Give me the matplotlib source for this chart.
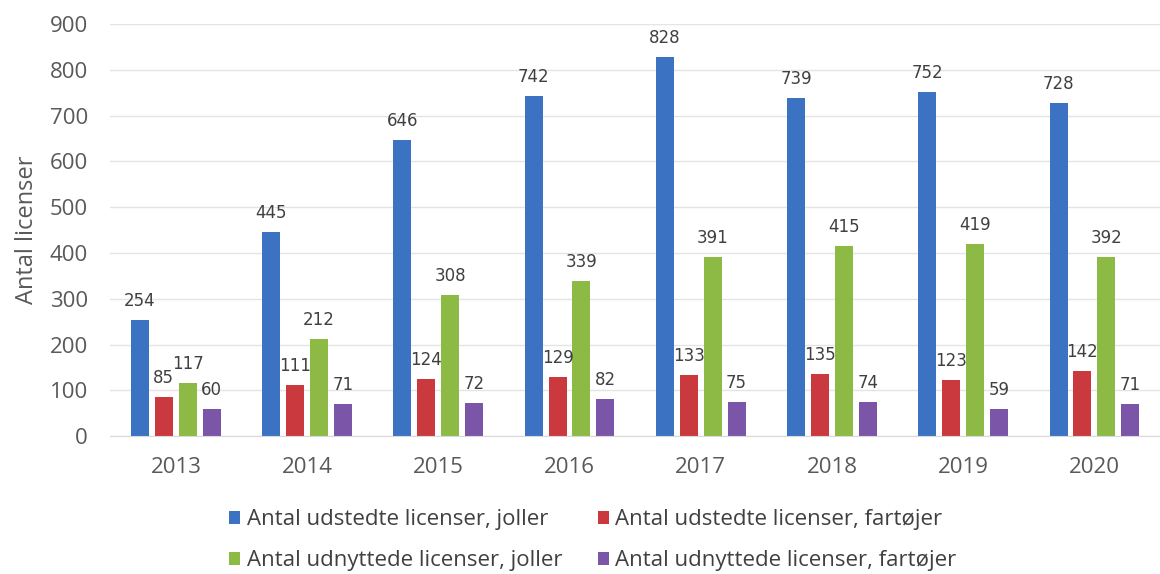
import numpy as np
import matplotlib.pyplot as plt

years = ['2013', '2014', '2015', '2016', '2017', '2018', '2019', '2020']
udstedte_joller = [254, 445, 646, 742, 828, 739, 752, 728]
udstedte_fartojer = [85, 111, 124, 129, 133, 135, 123, 142]
udnyttede_joller = [117, 212, 308, 339, 391, 415, 419, 392]
udnyttede_fartojer = [60, 71, 72, 82, 75, 74, 59, 71]

series = [
    ('Antal udstedte licenser, joller', udstedte_joller, '#3B72C2'),
    ('Antal udstedte licenser, fartøjer', udstedte_fartojer, '#C9393D'),
    ('Antal udnyttede licenser, joller', udnyttede_joller, '#8DBA45'),
    ('Antal udnyttede licenser, fartøjer', udnyttede_fartojer, '#7A55A8'),
]

plt.rcParams['font.family'] = ['Open Sans', 'DejaVu Sans']

fig = plt.figure(figsize=(11.6, 5.74), dpi=100)
ax = fig.add_axes([0.095, 0.240, 0.905, 0.718])

x = np.arange(len(years))
width = 0.137
step = 0.182
handles = []
for i, (name, vals, col) in enumerate(series):
    pos = x + (i - 1.5) * step
    b = ax.bar(pos, vals, width, color=col, label=name, zorder=2)
    handles.append(b)
    for px, v in zip(pos, vals):
        ax.text(px, v + 22, str(v), ha='center', va='bottom',
                fontsize=12, color='#404040', family='DejaVu Sans')

ax.set_xlim(-0.5, len(years) - 0.5)
ax.set_ylim(0, 900)
ax.set_yticks(range(0, 901, 100))
ax.set_xticks(x)
ax.set_xticklabels(years)
ax.grid(axis='y', color='#e4e4e4', linewidth=1, zorder=0)
for s in ['top', 'right', 'left']:
    ax.spines[s].set_visible(False)
ax.spines['bottom'].set_color('#d9d9d9')
ax.tick_params(axis='both', length=0, labelsize=16, colors='#595959')
ax.tick_params(axis='x', pad=15)
ax.tick_params(axis='y', pad=16)
ax.set_ylabel('Antal licenser', fontsize=17, color='#595959', labelpad=8)

# row-wise order for a two-column legend
order = [0, 2, 1, 3]
leg = fig.legend(handles=[handles[k] for k in order], loc='center',
                 bbox_to_anchor=(0.511, 0.059), ncol=2, frameon=False,
                 fontsize=16, handlelength=0.5, handleheight=0.5,
                 handletextpad=0.3, columnspacing=1.6, labelspacing=0.9)
for t in leg.get_texts():
    t.set_color('#404040')

fig.savefig('out.png', dpi=100)
